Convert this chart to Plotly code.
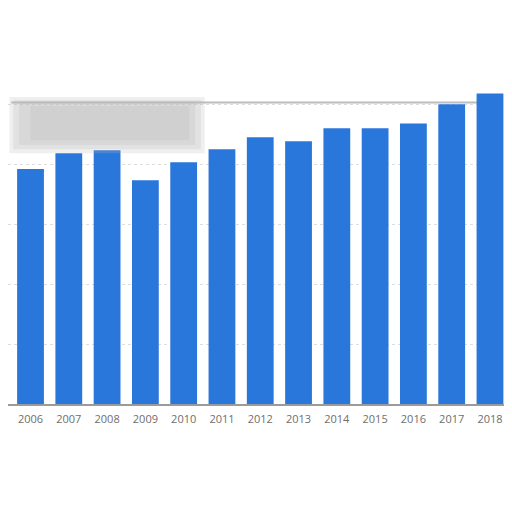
import plotly.graph_objects as go

years = ['2006', '2007', '2008', '2009', '2010', '2011', '2012',
         '2013', '2014', '2015', '2016', '2017', '2018']
values = [392, 418, 423, 373, 403, 425, 445, 438, 460, 460, 468, 500, 518]

fig = go.Figure(go.Bar(x=list(range(len(years))), y=values,
                       marker=dict(color='#2a77dc', line=dict(width=0)),
                       width=0.7))

# soft grey block (blurred title area), built from stacked rectangles
blur = []
for x0, x1, y0, y1 in [(-0.55, 4.55, 418, 512), (-0.45, 4.45, 425, 507),
                       (-0.3, 4.3, 432, 502), (0.0, 4.15, 440, 497)]:
    blur.append(dict(type='rect', xref='x', yref='y', x0=x0, x1=x1,
                     y0=y0, y1=y1, fillcolor='#b4b4b4', opacity=0.22,
                     line=dict(width=0), layer='above'))

fig.update_layout(
    width=496, height=496,
    margin=dict(l=0, r=0, t=77, b=100),
    paper_bgcolor='white', plot_bgcolor='white',
    showlegend=False,
    font=dict(family='Open Sans', size=11, color='#6e6e6e'),
    xaxis=dict(range=[-0.588, 12.366], tickvals=list(range(len(years))),
               ticktext=years, showgrid=False, zeroline=False,
               showline=True, linecolor='#9a9a9a', linewidth=2,
               ticks='', ticklabelstandoff=4),
    yaxis=dict(range=[0, 532], dtick=100, showticklabels=False,
               showgrid=True, gridcolor='#dddddd', griddash='dot',
               zeroline=False),
    shapes=blur + [dict(type='line', xref='x', yref='y', x0=-0.5, x1=12.0,
                        y0=503, y1=503, line=dict(color='#bbbbbb', width=2),
                        layer='below')],
)

fig.write_html("out.html")
